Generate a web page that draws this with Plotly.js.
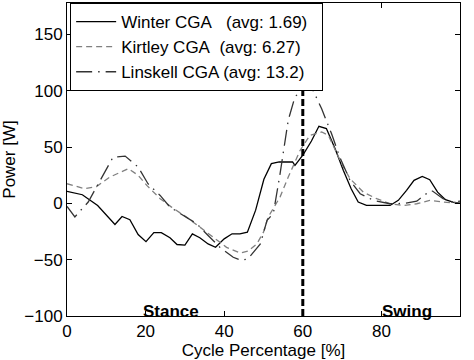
<!DOCTYPE html>
<html><head><meta charset="utf-8">
<script src="https://cdn.plot.ly/plotly-3.0.1.min.js"></script>
<style>html,body{margin:0;padding:0;background:#fff}#c{width:474px;height:360px}</style>
</head><body><div id="c"></div>
<script>
const winterX = [0,3.9,7.8,12.2,14,16,18.1,20.1,22.1,24,26.2,28,30,31.9,33.8,35.9,37.8,40,42,44,45.9,48,50.1,52,54,57.4,58,60.1,62.2,64.1,66,68.2,70.3,72.3,74.1,76.2,82.2,84.3,86.4,88.3,90.4,92.3,94.3,96.3,98.2,100];
const winterY = [10.7,7.7,-1.8,-18.7,-11.6,-14.5,-27.6,-34,-26,-26,-30.5,-36.5,-37,-27,-30.5,-36,-39,-31.5,-27,-27,-25.5,-6,21.4,35.3,36.8,36.8,33.8,43.3,55.4,68.5,66.5,48.7,29.4,13,1.2,-1.8,-1.8,2.7,11.6,20.5,24,21,10,3.3,1.2,0.3];
const kirtleyX = [0,4.5,7.5,10.9,15.6,18.1,20.3,23.7,26.6,30.4,33.8,37.2,40.6,44,46.1,48.3,50,51.2,54.2,56.3,59.3,61.8,64.8,66.5,69.9,72,75.4,78.8,82.2,85.6,89,92.3,95.7,100];
const kirtleyY = [17.5,13,15,23.4,30.9,25,16,4.2,-3.3,-12.2,-21,-30,-39,-44,-42.4,-36,-25.5,-12,5.6,23.4,47,60.5,63.4,60.5,35.3,22,10,4.2,-0.3,-1.8,-0.3,2.7,1.2,0];
const linskellX = [0,2,3,5.4,7.5,11.7,14.8,18.1,20.6,23.7,26.2,30.4,33,35.9,38.9,42.3,44.4,46.1,49.2,50.9,52.5,54.2,56.3,58,60.1,62.2,64.8,67.3,69.4,72,74.6,78,82.2,86,89,92.3,93,95.7,98.2,100];
const linskellY = [-2.7,-12,-8,1.2,14.5,41,42,32.3,17.5,7.1,-3.3,-12,-18,-28.5,-39,-47.8,-50.7,-49,-36,-15,-9,26,74,94.6,102,103.5,84,62,41.2,20.5,8.6,2.7,-0.3,0,2,11,11,4.2,1,2];
const phaseLineX = [60,60];
const phaseLineY = [-100,178];
const phaseLabels = ["Stance","Swing"];
const phaseLabelX = [26.5,86.4];
const phaseLabelY = [-96,-96];
const xTicks = [0,20,40,60,80,100];
const yTicks = [-100,-50,0,50,100,150];
const names = ["Winter CGA\u00a0\u00a0\u00a0(avg: 1.69)\u00a0\u00a0","Kirtley CGA\u00a0\u00a0(avg: 6.27)\u00a0\u00a0","Linskell CGA (avg: 13.2)\u00a0\u00a0"];

const font = {family:"Liberation Sans, Arial, sans-serif", size:17, color:"#000"};
const traces = [
  {x:phaseLineX, y:phaseLineY, mode:"lines", line:{color:"#000", width:3, dash:"7px,3px"}, showlegend:false, hoverinfo:"skip"},
  {x:winterX, y:winterY, mode:"lines", name:names[0], line:{color:"#000", width:1.3}},
  {x:kirtleyX, y:kirtleyY, mode:"lines", name:names[1], line:{color:"#808080", width:1.3, dash:"6px,4px"}},
  {x:linskellX, y:linskellY, mode:"lines", name:names[2], line:{color:"#333", width:1.3, dash:"16px,6px,1.5px,6px"}}
];
const layout = {
  width:474, height:360,
  margin:{l:67, r:14, t:3, b:44},
  paper_bgcolor:"#fff", plot_bgcolor:"#fff",
  font:font,
  showlegend:true,
  legend:{x:0.008, y:1, xanchor:"left", yanchor:"top", bgcolor:"#fff", bordercolor:"#000", borderwidth:1, font:font, tracegroupgap:0, itemwidth:40},
  xaxis:{range:[0,100], tickvals:xTicks, ticks:"inside", ticklen:5, tickcolor:"#000", showline:true, linecolor:"#000", linewidth:1, mirror:"ticks", showgrid:false, zeroline:false, tickfont:font,
    title:{text:"Cycle Percentage [%]", font:font, standoff:2}},
  yaxis:{range:[-100,178], tickvals:yTicks, ticks:"inside", ticklen:5, tickcolor:"#000", showline:true, linecolor:"#000", linewidth:1, mirror:"ticks", showgrid:false, zeroline:false, tickfont:font,
    title:{text:"Power [W]", font:font, standoff:4}},
  annotations: phaseLabels.map((t,i)=>({x:phaseLabelX[i], y:phaseLabelY[i], xref:"x", yref:"y", text:"<b>"+t+"</b>", showarrow:false, font:font}))
};
Plotly.newPlot("c", traces, layout, {displayModeBar:false, staticPlot:true});
</script>
</body></html>
